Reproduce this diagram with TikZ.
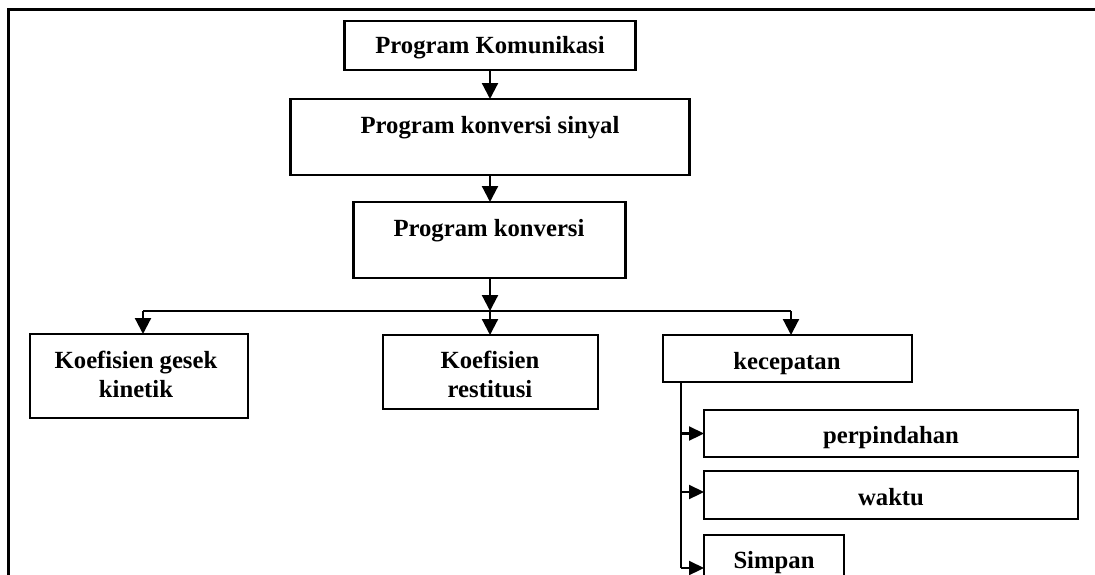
\documentclass[tikz,border=0pt]{standalone}
\usepackage{fontspec}
\setmainfont{Liberation Serif}
\usetikzlibrary{arrows.meta}
\begin{document}
\begin{tikzpicture}[x=1pt,y=-1pt,
  box/.style={draw=black,line width=2.6pt,inner sep=0pt,outer sep=0pt,fill=none},
  txt/.style={inner sep=0pt,outer sep=0pt,align=center,anchor=base,
    font=\fontsize{24.7}{29.4}\selectfont\bfseries},
  conn/.style={draw=black,line width=2.2pt},
  arrD/.style={conn,-{Triangle[width=16pt,length=16pt]}},
  arrR/.style={conn,-{Triangle[width=14pt,length=15pt]}}]
\useasboundingbox (0,0) rectangle (1095,574);
\clip (0,0) rectangle (1095,574);
% frame (cropped)
\draw[line width=2.6pt] (8.5,600) -- (8.5,9.5) -- (1110,9.5);
% boxes
\node[box,minimum width=291pt,minimum height=49pt] (pk)  at (490,45.5) {};
\node[box,minimum width=399pt,minimum height=76pt] (pks) at (490,137) {};
\node[box,minimum width=272pt,minimum height=76pt] (pkv) at (489.5,240) {};
\node[box,minimum width=218pt,minimum height=84pt] (kg)  at (139,376) {};
\node[box,minimum width=215pt,minimum height=74pt] (kr)  at (490.5,372) {};
\node[box,minimum width=249pt,minimum height=47pt] (kc)  at (787.5,358.5) {};
\node[box,minimum width=374pt,minimum height=47pt] (pp)  at (891,433.5) {};
\node[box,minimum width=374pt,minimum height=48pt] (wk)  at (891,495) {};
\node[box,minimum width=140pt,minimum height=60pt] (sp)  at (774,565) {};
% texts
\node[txt] (t1) at (490,53.5) {Program Komunikasi};
\node[txt] (t2) at (490,133) {Program konversi sinyal};
\node[txt] (t3) at (489,236.5) {Program konversi};
\node[txt] (t4) at (136,397.7) {Koefisien gesek\\kinetik};
\node[txt] (t5) at (490,397.7) {Koefisien\\restitusi};
\node[txt] (t6) at (787,369.3) {kecepatan};
\node[txt] (t7) at (891,443) {perpindahan};
\node[txt] (t8) at (891,505) {waktu};
\node[txt] (t9) at (774,568) {Simpan};
% connectors
\coordinate (bus) at (490,311);
\coordinate (bl) at (143,311);
\coordinate (br) at (791,311);
\coordinate (vb) at (681,382);
\coordinate (a2) at (681,492);
\coordinate (ve) at (681,568);
\draw[arrD] (pk.south) -- (pks.north);
\draw[arrD] (pks.south) -- (pks.south |- pkv.north);
\draw[arrD] (pkv.south -| bus) -- (bus);
\draw[conn] (bl) -- (br);
\draw[arrD] (bl) -- (bl |- kg.north);
\draw[arrD] (bus) -- (bus |- kr.north);
\draw[arrD] (br) -- (br |- kc.north);
\draw[conn] (vb) -- (ve);
\draw[arrR] (vb |- pp.west) -- (pp.west);
\draw[arrR] (a2) -- (a2 -| wk.west);
\draw[arrR] (ve) -- (ve -| sp.west);
\end{tikzpicture}
\end{document}
